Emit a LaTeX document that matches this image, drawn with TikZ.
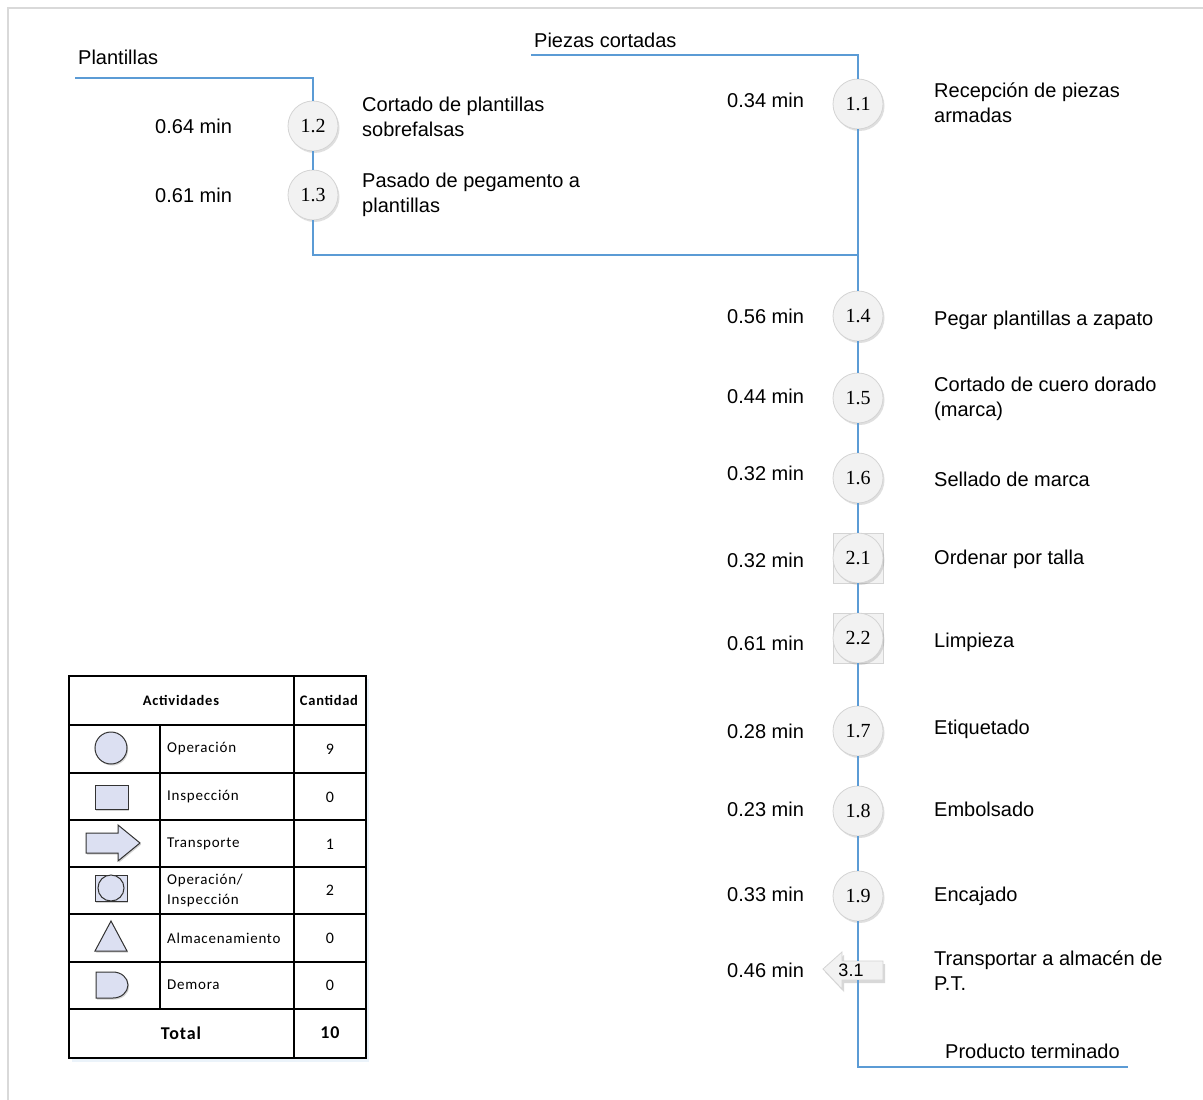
\documentclass[tikz,border=0pt]{standalone}
\usepackage{fontspec}
\setmainfont{Liberation Sans}
\newfontfamily\numfont{Liberation Serif}
\newfontfamily\tabfont[LetterSpace=5]{Carlito}
\usetikzlibrary{shadows}
\definecolor{flowblue}{HTML}{5B9BD5}
\definecolor{opfill}{HTML}{F2F2F2}
\definecolor{opdraw}{HTML}{D4D4D4}
\definecolor{iconfill}{HTML}{DCE0F2}
\definecolor{framegray}{HTML}{D9D9D9}
\tikzset{
  flow/.style={draw=flowblue, line width=2.6pt},
  opnode/.style={circle, minimum size=50pt, inner sep=0pt, fill=opfill, draw=opdraw, line width=0.8pt,
    drop shadow={shadow xshift=1.5pt, shadow yshift=-2pt, opacity=0.25, fill=gray},
    font=\numfont\fontsize{20}{22}\selectfont},
  inspbox/.style={rectangle, minimum size=50pt, inner sep=0pt, fill=opfill, draw=opdraw, line width=0.8pt},
  lbl/.style={anchor=west, inner sep=0pt, align=left, font=\fontsize{20}{25}\selectfont},
  tbl/.style={line width=2pt, draw=black},
  icon/.style={fill=iconfill, draw=black!80, line width=1pt,
    drop shadow={shadow xshift=1.2pt, shadow yshift=-1.5pt, opacity=0.35, fill=gray}},
  ttxt/.style={inner sep=0pt, font=\tabfont\fontsize{15}{20}\selectfont},
  tnum/.style={inner sep=0pt, font=\tabfont\fontsize{16}{20}\selectfont},
  thead/.style={inner sep=0pt, font=\tabfont\bfseries\fontsize{14.5}{16}\selectfont},
  ttot/.style={inner sep=0pt, font=\tabfont\bfseries\fontsize{18}{20}\selectfont},
}
\begin{document}
\begin{tikzpicture}[x=1pt, y=-1pt]
\useasboundingbox[fill=white] (0,0) rectangle (1203,1100);
% page frame
\draw[framegray, line width=1.2pt] (8,1100) -- (8,8) -- (1203,8);

% ---- left branch: Plantillas ----
\coordinate (plStart) at (75,78);
\coordinate (plCorner) at (313,78);
\node[opnode] (c12) at (313,126) {1.2};
\node[opnode] (c13) at (313,195) {1.3};
\coordinate (plLow) at (313,255);
\coordinate (join) at (858,255);

% ---- main branch: Piezas cortadas ----
\coordinate (pzStart) at (531,55);
\coordinate (pzCorner) at (858,55);
\node[opnode] (c11) at (858,104) {1.1};
\node[opnode] (c14) at (858,316) {1.4};
\node[opnode] (c15) at (858,398) {1.5};
\node[opnode] (c16) at (858,478) {1.6};
\node[inspbox] (s21) at (858,558) {};
\node[opnode] (c21) at (858,558) {2.1};
\node[inspbox] (s22) at (858,638) {};
\node[opnode] (c22) at (858,638) {2.2};
\node[opnode] (c17) at (858,731) {1.7};
\node[opnode] (c18) at (858,811) {1.8};
\node[opnode] (c19) at (858,896) {1.9};
% transport arrow 3.1
\fill[gray, opacity=0.3] (825,972) -- (844,955) -- (844,964) -- (885,964) -- (885,983) -- (844,983) -- (844,992) -- cycle;
\filldraw[fill=opfill, draw=opdraw, line width=0.8pt] (823,969) -- (842,952) -- (842,961) -- (883,961) -- (883,980) -- (842,980) -- (842,989) -- cycle;
\node[inner sep=0pt, minimum width=40pt, minimum height=19pt] (a31) at (858,970.5) {};
\node[inner sep=0pt, font=\fontsize{18}{20}\selectfont] at (851,970) {3.1};
\coordinate (endCorner) at (858,1067);
\coordinate (endStop) at (1128,1067);

% ---- connectors ----
\draw[flow] (plStart) -- (plCorner) -- (c12);
\draw[flow] (c12) -- (c13);
\draw[flow] (c13) -- (plLow) -- (join);
\draw[flow] (pzStart) -- (pzCorner) -- (c11);
\draw[flow] (c11) -- (c14);
\draw[flow] (c14) -- (c15);
\draw[flow] (c15) -- (c16);
\draw[flow] (c16) -- (s21);
\draw[flow] (s21) -- (s22);
\draw[flow] (s22) -- (c17);
\draw[flow] (c17) -- (c18);
\draw[flow] (c18) -- (c19);
\draw[flow] (c19) -- (a31);
\draw[flow] (a31) -- (endCorner) -- (endStop);

% ---- labels ----
\node[lbl] (tPl) at (78,57) {Plantillas};
\node[lbl] (tPz) at (534,40) {Piezas cortadas};
\node[lbl] (tEnd) at (945,1051) {Producto terminado};

\node[lbl] at (155,126) {0.64 min};
\node[lbl] at (155,195) {0.61 min};
\node[lbl] at (362,117) {Cortado de plantillas\\sobrefalsas};
\node[lbl] at (362,195) {Pasado de pegamento a\\plantillas};

\node[lbl] at (727,100) {0.34 min};
\node[lbl] at (934,103) {Recepción de piezas\\armadas};
\node[lbl] at (727,316) {0.56 min};
\node[lbl] at (934,320) {Pegar plantillas a zapato};
\node[lbl] at (727,396) {0.44 min};
\node[lbl] at (934,399) {Cortado de cuero dorado\\(marca)};
\node[lbl] at (727,473) {0.32 min};
\node[lbl] at (934,479) {Sellado de marca};
\node[lbl] at (727,560) {0.32 min};
\node[lbl] at (934,559) {Ordenar por talla};
\node[lbl] at (727,643) {0.61 min};
\node[lbl] at (934,642) {Limpieza};
\node[lbl] at (727,731) {0.28 min};
\node[lbl] at (934,729) {Etiquetado};
\node[lbl] at (727,809) {0.23 min};
\node[lbl] at (934,809) {Embolsado};
\node[lbl] at (727,894) {0.33 min};
\node[lbl] at (934,896) {Encajado};
\node[lbl] at (727,970) {0.46 min};
\node[lbl] at (934,971) {Transportar a almacén de\\P.T.};

% ---- summary table ----
\fill[flowblue!12] (72,679) rectangle (369,1062);
\fill[white] (69,676) rectangle (366,1058);
\draw[tbl] (69,676) rectangle (366,1058);
\draw[tbl] (294,676) -- (294,1058);
\draw[tbl] (160,725) -- (160,1009);
\foreach \yy in {725,773,820,867,914,962,1009} \draw[tbl] (69,\yy) -- (366,\yy);

\node[thead] at (181,700) {Actividades};
\node[thead] at (329,700) {Cantidad};

\node[ttxt, anchor=west] at (167,749) {Operación};
\node[ttxt, anchor=west] at (167,797) {Inspección};
\node[ttxt, anchor=west] at (167,844) {Transporte};
\node[ttxt, anchor=west, align=left] at (167,890) {Operación/\\Inspección};
\node[ttxt, anchor=west] at (167,938) {Almacenamiento};
\node[ttxt, anchor=west] at (167,985) {Demora};

\node[tnum] at (330,749) {9};
\node[tnum] at (330,797) {0};
\node[tnum] at (330,844) {1};
\node[tnum] at (330,890) {2};
\node[tnum] at (330,938) {0};
\node[tnum] at (330,985) {0};
\node[ttot] at (181,1033) {Total};
\node[ttot] at (330,1033) {10};

% symbol icons
\path[icon] (111,748) circle (16);
\path[icon] (95,785) rectangle (128,809);
\path[icon] (86,833) -- (118,833) -- (118,825) -- (140,843) -- (118,861) -- (118,853) -- (86,853) -- cycle;
\path[icon] (95,875) rectangle (127,901);
\draw[fill=iconfill, draw=black!80, line width=1pt] (111,888) circle (13);
\path[icon] (111,921) -- (127,951) -- (95,951) -- cycle;
\path[icon] (96,972) -- (113,972) arc[start angle=90, end angle=-90, x radius=15, y radius=-13] -- (96,998) -- cycle;
\end{tikzpicture}
\end{document}
